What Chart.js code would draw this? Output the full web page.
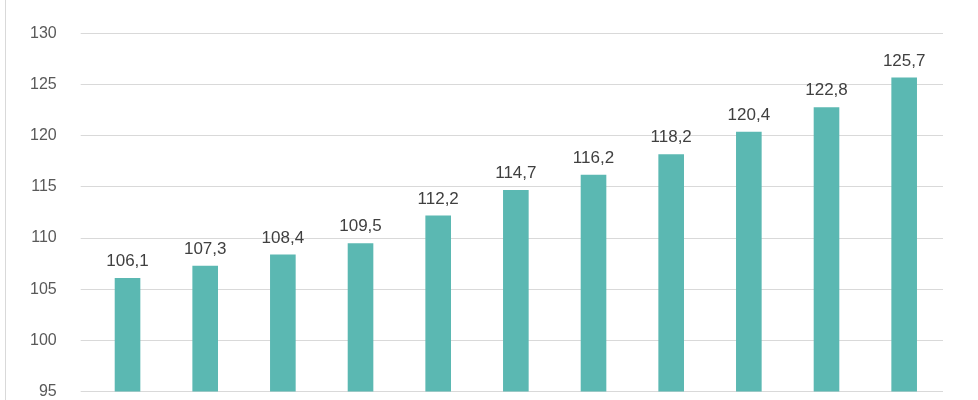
<!DOCTYPE html>
<html><head><meta charset="utf-8">
<script src="https://cdn.jsdelivr.net/npm/chart.js@4/dist/chart.umd.min.js"></script>
<style>
html,body{margin:0;padding:0;overflow:hidden;background:#fff;width:978px;height:400px}
#wrap{position:absolute;left:5px;top:0;width:973px;height:425px;border-left:1px solid #d9d9d9}
</style></head><body>
<div id="wrap"><canvas id="c"></canvas></div>
<script>
const categories = ["1","2","3","4","5","6","7","8","9","10","11"];
const values = [106.1,107.3,108.4,109.5,112.2,114.7,116.2,118.2,120.4,122.8,125.7];
const labelPlugin = {
  id:'lbl',
  afterDatasetsDraw(chart){
    const ctx=chart.ctx;
    ctx.save();
    ctx.font='17px "Liberation Sans", Arial, sans-serif';
    ctx.fillStyle='#404040';ctx.textAlign='center';ctx.textBaseline='bottom';
    chart.getDatasetMeta(0).data.forEach((b,i)=>{
      ctx.fillText(values[i].toFixed(1).replace('.',','), b.x, b.y-8);
    });
    ctx.restore();
  }
};
new Chart(document.getElementById('c'),{
  type:'bar',
  data:{labels:categories,datasets:[{data:values,backgroundColor:'#5BB8B2',barPercentage:0.33,categoryPercentage:1}]},
  options:{
    responsive:true,maintainAspectRatio:false,animation:false,
    layout:{padding:{top:7,right:36,bottom:0,left:0}},
    plugins:{legend:{display:false},tooltip:{enabled:false}},
    scales:{
      x:{ticks:{display:true,color:'#fff',font:{size:14}},grid:{display:false},border:{display:false}},
      y:{min:95,max:130,ticks:{stepSize:5,color:'#595959',font:{size:16,family:'"Liberation Sans", Arial, sans-serif'},padding:24},
         grid:{color:'#d9d9d9'},border:{display:false}}
    }
  },
  plugins:[labelPlugin]
});
</script></body></html>
